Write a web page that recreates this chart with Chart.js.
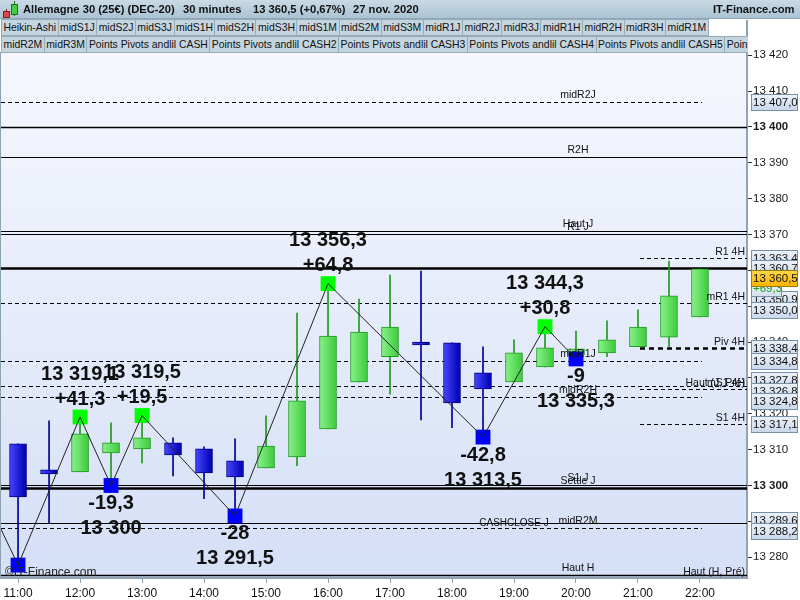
<!DOCTYPE html>
<html>
<head>
<meta charset="utf-8">
<script src="https://cdn.jsdelivr.net/npm/chart.js@4.4.1/dist/chart.umd.min.js"></script>
<style>
  body { margin: 0; background: #fff; font-family: "Liberation Sans", Arial, sans-serif; }
  #wrap { position: relative; width: 800px; height: 600px; overflow: hidden; }
  #wrap canvas { position: absolute; left: 0; top: 0; }
  .title { position: absolute; left: 0; top: 0; width: 800px; height: 19px; box-sizing: border-box;
           background: linear-gradient(#c9dae5, #abc3d3); border-bottom: 1px solid #8ea6b7;
           font-weight: bold; font-size: 11.2px; color: #111; }
  .title span { position: absolute; top: 3px; white-space: nowrap; }
  .row { position: absolute; left: 1px; height: 17px; display: flex; overflow: hidden; white-space: nowrap;
         border-left: 1px solid #95abba; }
  .row span { flex: none; height: 15px; line-height: 15px; font-size: 10.4px; color: #111; padding: 0 1.5px;
              background: #c5d5e0; border-top: 1px solid #95abba; border-bottom: 1px solid #95abba;
              border-right: 1px solid #95abba; }
  .ic { position: absolute; }
</style>
</head>
<body>
<div id="wrap">
  <canvas id="chart" width="800" height="600"></canvas>
  <div class="title">
    <div class="ic" style="left:6px;top:9px;width:1px;height:9px;background:#802020"></div>
    <div class="ic" style="left:3px;top:11px;width:5px;height:5px;background:#e04848;border:1px solid #802020"></div>
    <div class="ic" style="left:14px;top:1px;width:1px;height:15px;background:#207020"></div>
    <div class="ic" style="left:11px;top:4px;width:5px;height:9px;background:#40d040;border:1px solid #207020"></div>
    <span style="left:23px">Allemagne 30 (25€) (DEC-20)</span>
    <span style="left:183px">30 minutes</span>
    <span style="left:253px">13 360,5 (+0,67%)</span>
    <span style="left:353px">27 nov. 2020</span>
    <span style="left:713px">IT-Finance.com</span>
  </div>
  <div class="row" id="row1" style="top:19px;width:707px"></div>
  <div class="row" id="row2" style="top:36px;width:746px"></div>
</div>
<script>
// --- données ---
const buttonsRow1 = ['Heikin-Ashi', 'midS1J', 'midS2J', 'midS3J', 'midS1H', 'midS2H', 'midS3H', 'midS1M', 'midS2M',
  'midS3M', 'midR1J', 'midR2J', 'midR3J', 'midR1H', 'midR2H', 'midR3H', 'midR1M'];
const buttonsRow2 = ['midR2M', 'midR3M', 'Points Pivots andlil CASH', 'Points Pivots andlil CASH2',
  'Points Pivots andlil CASH3', 'Points Pivots andlil CASH4', 'Points Pivots andlil CASH5', 'Points Pivots andlil CASH6'];

const candleTimes = ['11:00', '11:30', '12:00', '12:30', '13:00', '13:30', '14:00', '14:30', '15:00', '15:30', '16:00',
  '16:30', '17:00', '17:30', '18:00', '18:30', '19:00', '19:30', '20:00', '20:30', '21:00', '21:30', '22:00'];
const candleOpen = [13311.6, 13304.4, 13303.8, 13309.1, 13310.2, 13311.9, 13310.2, 13306.9, 13304.9, 13308.0, 13315.8,
  13328.9, 13335.9, 13340.0, 13339.8, 13331.4, 13328.9, 13333.1, 13336.4, 13337.0, 13338.7, 13341.4, 13347.0];
const candleClose = [13296.8, 13303.2, 13314.4, 13311.9, 13313.3, 13308.5, 13303.5, 13302.4, 13311.0, 13323.6, 13341.7,
  13342.8, 13344.2, 13339.2, 13323.0, 13326.9, 13337.0, 13338.4, 13338.1, 13340.6, 13344.2, 13352.9, 13360.4];
const candleHigh = [13311.6, 13318.0, 13319.1, 13317.5, 13319.5, 13313.3, 13310.8, 13313.0, 13319.4, 13348.1, 13356.3,
  13352.0, 13358.7, 13359.8, 13339.8, 13338.7, 13340.6, 13344.3, 13343.1, 13345.9, 13349.0, 13362.6, 13360.4];
const candleLow = [13277.8, 13289.6, 13303.8, 13300.0, 13306.3, 13302.7, 13296.3, 13291.5, 13304.9, 13305.5, 13315.8,
  13328.9, 13325.5, 13318.3, 13316.1, 13313.5, 13328.9, 13333.1, 13335.3, 13335.9, 13338.7, 13338.7, 13347.0];

// zigzag (points hauts / bas)
const swingTimes = ['10:30', '11:00', '12:00', '12:30', '13:00', '14:30', '16:00', '18:30', '19:30', '20:00'];
const swingValues = [13296.0, 13277.8, 13319.1, 13300.0, 13319.5, 13291.5, 13356.3, 13313.5, 13344.3, 13335.3];
const swingKinds = ['H', 'L', 'H', 'L', 'H', 'L', 'H', 'L', 'H', 'L'];
const swingChanges = ['', '', '+41,3', '-19,3', '+19,5', '-28', '+64,8', '-42,8', '+30,8', '-9'];

// niveaux horizontaux
const levelNames = ['midR2J', '', 'R2H', 'Haut J', 'R1 J', 'R1 4H', '', 'mR1 4H', '', 'Piv 4H', 'midR1J',
  'Haut (J, Pré)', 'mS1 4H', 'midR2H', 'S1 4H', 'S1 J', 'Settle J', 'CASHCLOSE J', 'midR2M', 'Haut H', 'Haut (H, Pré)'];
const levelValues = [13407.0, 13400.0, 13391.6, 13371.0, 13370.2, 13363.4, 13360.7, 13350.9, 13350.0, 13338.4, 13334.8,
  13327.8, 13326.8, 13324.8, 13317.1, 13300.0, 13299.2, 13289.6, 13288.2, 13275.0, 13275.0];

const lastPrice = 13360.5;
const lastChange = '+69,3';

const hourLabels = ['11:00', '12:00', '13:00', '14:00', '15:00', '16:00', '17:00', '18:00', '19:00', '20:00', '21:00', '22:00'];
const yTickValues = [13280, 13290, 13300, 13310, 13320, 13330, 13340, 13350, 13360, 13370, 13380, 13390, 13400, 13410, 13420];

// --- apparence des niveaux (même ordre que levelNames) ---
// span: full | left | right | none ; lab: c (centre, au-dessus), r (droite, au-dessus), cm / rm (centré sur la ligne)
const levelLook = [
  { dash: true, span: 'left', w: 1, lab: 'c', box: true },
  { dash: false, span: 'full', w: 1.5, lab: '', box: false },
  { dash: false, span: 'full', w: 1, lab: 'c', box: false },
  { dash: false, span: 'full', w: 1, lab: 'c', box: false },
  { dash: false, span: 'full', w: 1, lab: 'c', box: false },
  { dash: true, span: 'right', w: 1, lab: 'r', box: true },
  { dash: false, span: 'full', w: 2.5, lab: '', box: true },
  { dash: true, span: 'full', w: 1, lab: 'r', box: true },
  { dash: false, span: 'none', w: 1, lab: '', box: true },
  { dash: true, span: 'right', w: 2.5, lab: 'r', box: true },
  { dash: true, span: 'left', w: 1, lab: 'c', box: true },
  { dash: true, span: 'full', w: 1, lab: 'rm', box: true },
  { dash: true, span: 'right', w: 1, lab: 'r', box: true },
  { dash: true, span: 'left', w: 1, lab: 'c', box: true },
  { dash: true, span: 'right', w: 1, lab: 'r', box: true },
  { dash: false, span: 'full', w: 1, lab: 'c', box: false },
  { dash: false, span: 'full', w: 2.5, lab: 'c', box: false },
  { dash: false, span: 'full', w: 1, lab: 'cm', box: true },
  { dash: true, span: 'left', w: 1, lab: 'c', box: true },
  { dash: false, span: 'full', w: 1.5, lab: 'c', box: false },
  { dash: false, span: 'none', w: 1, lab: 'rm', box: false }
];

const FONT = '"Liberation Sans", Arial, sans-serif';

buttonsRow1.forEach(t => { const s = document.createElement('span'); s.textContent = t; document.getElementById('row1').appendChild(s); });
buttonsRow2.forEach(t => { const s = document.createElement('span'); s.textContent = t; document.getElementById('row2').appendChild(s); });

function toMin(hm) { const [h, m] = hm.split(':').map(Number); return h * 60 + m; }
function fromMin(v) { const h = Math.floor(v / 60), m = Math.round(v % 60); return h + ':' + String(m).padStart(2, '0'); }
function fmt(v, dec) {
  const parts = v.toFixed(dec).split('.');
  const i = parts[0].replace(/\B(?=(\d{3})+(?!\d))/g, ' ');
  return parts[1] ? i + ',' + parts[1] : i;
}

const isUp = candleTimes.map((t, i) => candleClose[i] >= candleOpen[i]);
const bodies = candleTimes.map((t, i) => ({ x: toMin(t), y: [candleOpen[i], candleClose[i]] }));
const wicks = candleTimes.map((t, i) => ({ x: toMin(t), y: [candleLow[i], candleHigh[i]] }));
const swings = swingTimes.map((t, i) => ({ x: toMin(t), y: swingValues[i] }));

function bodyFill(c) {
  const up = isUp[c.dataIndex];
  const flat = up ? '#5ddc5d' : '#1a1ad8';
  const xs = c.chart.scales.x;
  if (!xs || !c.raw) return flat;
  const px = xs.getPixelForValue(c.raw.x);
  if (!Number.isFinite(px)) return flat;
  const g = c.chart.ctx.createLinearGradient(px - 8, 0, px + 8, 0);
  if (up) { g.addColorStop(0, '#86f086'); g.addColorStop(1, '#40cc40'); }
  else { g.addColorStop(0, '#4444ff'); g.addColorStop(1, '#0000b0'); }
  return g;
}

const backdrop = {
  id: 'backdrop',
  beforeDraw(chart) {
    const { ctx, chartArea: a } = chart;
    ctx.save();
    ctx.fillStyle = '#fff';
    ctx.fillRect(0, 0, chart.width, chart.height);
    const g = ctx.createLinearGradient(0, a.top, 0, a.bottom);
    g.addColorStop(0, '#f6f8fe');
    g.addColorStop(1, '#d5dff6');
    ctx.fillStyle = g;
    ctx.fillRect(a.left, a.top, a.right - a.left, a.bottom - a.top);
    ctx.fillStyle = '#8da3b3';
    ctx.fillRect(0, a.top, 1, a.bottom - a.top);
    ctx.fillRect(a.right - 1, 20, 2, a.top - 20);
    ctx.restore();
  }
};

function clipArea(ctx, a) {
  ctx.beginPath();
  ctx.rect(a.left, a.top, a.right - a.left, a.bottom - a.top);
  ctx.clip();
}

// lignes sous les bougies, libellés par-dessus
const levels = {
  id: 'levels',
  beforeDatasetsDraw(chart) {
    const { ctx, chartArea: a, scales: { x, y } } = chart;
    const xLeftEnd = x.getPixelForValue(toMin('22:00')) + 2;
    const xRightStart = x.getPixelForValue(toMin('21:00')) + 2;
    ctx.save();
    clipArea(ctx, a);
    levelValues.forEach((v, i) => {
      const look = levelLook[i];
      if (look.span === 'none') return;
      const py = Math.round(y.getPixelForValue(v)) + 0.5;
      const x0 = look.span === 'right' ? xRightStart : a.left;
      const x1 = look.span === 'left' ? xLeftEnd : a.right;
      ctx.beginPath();
      ctx.strokeStyle = '#000';
      ctx.lineWidth = look.w;
      ctx.setLineDash(look.dash ? (look.w > 2 ? [5, 4] : [4, 3]) : []);
      ctx.moveTo(x0, py);
      ctx.lineTo(x1, py);
      ctx.stroke();
    });
    ctx.restore();
  },
  afterDatasetsDraw(chart) {
    const { ctx, chartArea: a, scales: { x, y } } = chart;
    const xCentre = x.getPixelForValue(toMin('20:00')) + 2;
    const xCash = x.getPixelForValue(toMin('19:00'));
    ctx.save();
    clipArea(ctx, a);
    ctx.fillStyle = '#111';
    levelValues.forEach((v, i) => {
      const look = levelLook[i];
      const name = levelNames[i];
      if (!name) return;
      const py = Math.round(y.getPixelForValue(v)) + 0.5;
      if (look.lab === 'c') {
        ctx.font = '10.5px ' + FONT; ctx.textAlign = 'center'; ctx.textBaseline = 'bottom';
        ctx.fillText(name, xCentre, py - 2);
      } else if (look.lab === 'r') {
        ctx.font = '10.5px ' + FONT; ctx.textAlign = 'right'; ctx.textBaseline = 'bottom';
        ctx.fillText(name, a.right - 2, py - 1);
      } else if (look.lab === 'cm') {
        ctx.font = '10px ' + FONT; ctx.textAlign = 'center'; ctx.textBaseline = 'middle';
        ctx.fillText(name, xCash, py);
      } else if (look.lab === 'rm') {
        ctx.font = '10.5px ' + FONT; ctx.textAlign = 'right'; ctx.textBaseline = 'middle';
        ctx.fillText(name, a.right - 2, py - 3);
      }
    });
    ctx.restore();
  }
};

const swingLabels = {
  id: 'swingLabels',
  afterDatasetsDraw(chart) {
    const { ctx, chartArea: a, scales: { x, y } } = chart;
    ctx.save();
    clipArea(ctx, a);
    ctx.font = 'bold 20px ' + FONT;
    ctx.fillStyle = '#111';
    ctx.textAlign = 'center';
    ctx.textBaseline = 'middle';
    swingValues.forEach((v, i) => {
      if (i === 0) return;
      const px = x.getPixelForValue(toMin(swingTimes[i]));
      const py = y.getPixelForValue(v);
      const price = fmt(v, Number.isInteger(v) ? 0 : 1);
      const s = swingKinds[i] === 'H' ? -1 : 1;
      if (swingChanges[i]) ctx.fillText(swingChanges[i], px, py + s * 18);
      ctx.fillText(price, px, py + s * 43);
    });
    ctx.font = '12px ' + FONT;
    ctx.textAlign = 'left';
    ctx.fillStyle = '#222';
    ctx.fillText('©IT-Finance.com', a.left + 4, a.bottom - 5);
    ctx.restore();
  }
};

function drawBox(ctx, x0, cy, w, text, fill, stroke, color) {
  const top = Math.round(cy - 8) + 0.5;
  const g = ctx.createLinearGradient(0, top, 0, top + 16);
  g.addColorStop(0, fill[0]); g.addColorStop(1, fill[1]);
  ctx.fillStyle = g;
  ctx.fillRect(x0, top, w, 16);
  ctx.strokeStyle = stroke;
  ctx.lineWidth = 1;
  ctx.strokeRect(x0 + 0.5, top, w, 16);
  ctx.fillStyle = color;
  ctx.font = '11.5px ' + FONT;
  ctx.textAlign = 'left';
  ctx.textBaseline = 'middle';
  ctx.fillText(text, x0 + 2, top + 8.5);
}

const priceBoxes = {
  id: 'priceBoxes',
  afterDraw(chart) {
    const { ctx, chartArea: a, scales: { y } } = chart;
    // étiquettes empilées sans trop se chevaucher
    const items = levelValues.map((v, i) => ({ v, t: y.getPixelForValue(v), box: levelLook[i].box }))
      .filter(it => it.box).sort((p, q) => p.t - q.t);
    items.forEach(it => { it.p = it.t; });
    const gap = 10.5;
    for (let pass = 0; pass < 30; pass++) {
      let moved = false;
      for (let k = 1; k < items.length; k++) {
        const d = items[k].p - items[k - 1].p;
        if (d < gap - 0.01) {
          const push = (gap - d) / 2;
          items[k - 1].p -= push; items[k].p += push; moved = true;
        }
      }
      if (!moved) break;
    }
    const bx = a.right + 4;
    ctx.save();
    items.forEach(it => drawBox(ctx, bx, it.p, 46, fmt(it.v, 1), ['#eef3fa', '#c9d7ea'], '#7690a8', '#111'));
    const lp = y.getPixelForValue(lastPrice);
    drawBox(ctx, bx, lp + 19, 30, lastChange, ['#eef3fa', '#d5e0ee'], '#7690a8', '#1aa01a');
    drawBox(ctx, bx, lp + 9, 46, fmt(lastPrice, 1), ['#ffd84a', '#ffb400'], '#9a7a10', '#111');
    ctx.restore();
  }
};

new Chart(document.getElementById('chart'), {
  type: 'bar',
  data: {
    datasets: [
      { type: 'line', data: swings, borderColor: '#222', borderWidth: 1, pointRadius: 0, order: 0 },
      {
        type: 'line', data: swings, showLine: false, pointStyle: 'rect', pointRadius: 10.5, pointBorderWidth: 0,
        pointBackgroundColor: swingKinds.map(k => k === 'H' ? '#00ff00' : '#0000ff'), order: 1
      },
      {
        data: bodies, backgroundColor: bodyFill, borderColor: c => isUp[c.dataIndex] ? '#1e9a1e' : '#00008a',
        borderWidth: 1, borderSkipped: false, barThickness: 17, grouped: false, order: 2
      },
      {
        data: wicks, backgroundColor: c => isUp[c.dataIndex] ? '#1e9a1e' : '#00009a',
        borderWidth: 0, barThickness: 1, grouped: false, order: 3
      }
    ]
  },
  options: {
    responsive: false,
    animation: false,
    events: [],
    layout: { autoPadding: false, padding: { top: 52, left: 1, right: 0, bottom: 0 } },
    plugins: { legend: { display: false }, tooltip: { enabled: false } },
    scales: {
      x: {
        type: 'linear', offset: false, min: 643.5, max: 1365.5,
        afterFit: s => { s.height = 22; },
        afterBuildTicks: s => { s.ticks = hourLabels.map(h => ({ value: toMin(h) })); },
        grid: { display: true, drawOnChartArea: false, drawTicks: true, tickLength: 5, color: '#8aa0b2', offset: false },
        border: { display: true, color: '#8fa5b5', width: 2 },
        ticks: { padding: 3, color: '#111', font: { size: 12, family: FONT }, maxRotation: 0, autoSkip: false,
          callback: v => fromMin(v) }
      },
      y: {
        position: 'right', min: 13274.2, max: 13420.9,
        afterFit: s => { s.width = 53; },
        afterBuildTicks: s => { s.ticks = yTickValues.map(v => ({ value: v })); },
        grid: { display: true, drawOnChartArea: false, drawTicks: true, tickLength: 5, color: '#333' },
        border: { display: true, color: '#8fa5b5', width: 2 },
        ticks: {
          padding: 1, crossAlign: 'near', color: '#1a1a1a', autoSkip: false,
          font: c => ({ size: 11.5, family: FONT, weight: c.tick && c.tick.value % 100 === 0 ? 'bold' : 'normal' }),
          callback: v => fmt(v, 0)
        }
      }
    }
  },
  plugins: [backdrop, levels, swingLabels, priceBoxes]
});
</script>
</body>
</html>
